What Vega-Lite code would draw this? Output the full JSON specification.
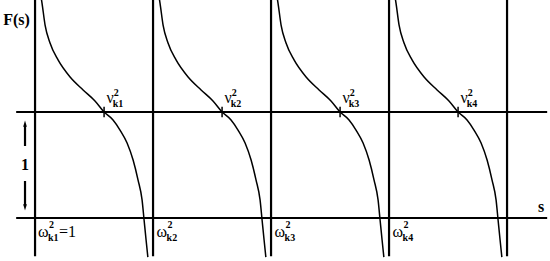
{
  "$schema": "https://vega.github.io/schema/vega-lite/v6.json",
  "width": 550,
  "height": 261,
  "autosize": {"type": "none"},
  "padding": 0,
  "background": "white",
  "config": {"view": {"stroke": null}},
  "datasets": {
    "vlines": [
      {"s": 1, "F": -0.36, "F2": 2.1},
      {"s": 2, "F": -0.36, "F2": 2.1},
      {"s": 3, "F": -0.36, "F2": 2.1},
      {"s": 4, "F": -0.36, "F2": 2.1},
      {"s": 5, "F": -0.36, "F2": 2.1}
    ],
    "hlines": [
      {"s": 0.84, "s2": 5.34, "F": 0},
      {"s": 0.84, "s2": 5.34, "F": 1}
    ],
    "ticks": [
      {"s": 1.585, "F": 0.95, "F2": 1.05},
      {"s": 2.585, "F": 0.95, "F2": 1.05},
      {"s": 3.585, "F": 0.95, "F2": 1.05},
      {"s": 4.585, "F": 0.95, "F2": 1.05}
    ],
    "curves": [
      {"seg": 1, "s": 1.051, "F": 2.085}, {"seg": 1, "s": 1.059, "F": 2.028}, {"seg": 1, "s": 1.085, "F": 1.821}, {"seg": 1, "s": 1.127, "F": 1.651}, {"seg": 1, "s": 1.195, "F": 1.491}, {"seg": 1, "s": 1.297, "F": 1.33}, {"seg": 1, "s": 1.407, "F": 1.208}, {"seg": 1, "s": 1.508, "F": 1.104}, {"seg": 1, "s": 1.585, "F": 1.0}, {"seg": 1, "s": 1.661, "F": 0.925}, {"seg": 1, "s": 1.72, "F": 0.83}, {"seg": 1, "s": 1.78, "F": 0.708}, {"seg": 1, "s": 1.831, "F": 0.547}, {"seg": 1, "s": 1.873, "F": 0.358}, {"seg": 1, "s": 1.907, "F": 0.17}, {"seg": 1, "s": 1.924, "F": -0.019}, {"seg": 1, "s": 1.941, "F": -0.208}, {"seg": 1, "s": 1.956, "F": -0.37},
      {"seg": 2, "s": 2.051, "F": 2.085}, {"seg": 2, "s": 2.059, "F": 2.028}, {"seg": 2, "s": 2.085, "F": 1.821}, {"seg": 2, "s": 2.127, "F": 1.651}, {"seg": 2, "s": 2.195, "F": 1.491}, {"seg": 2, "s": 2.297, "F": 1.33}, {"seg": 2, "s": 2.407, "F": 1.208}, {"seg": 2, "s": 2.508, "F": 1.104}, {"seg": 2, "s": 2.585, "F": 1.0}, {"seg": 2, "s": 2.661, "F": 0.925}, {"seg": 2, "s": 2.72, "F": 0.83}, {"seg": 2, "s": 2.78, "F": 0.708}, {"seg": 2, "s": 2.831, "F": 0.547}, {"seg": 2, "s": 2.873, "F": 0.358}, {"seg": 2, "s": 2.907, "F": 0.17}, {"seg": 2, "s": 2.924, "F": -0.019}, {"seg": 2, "s": 2.941, "F": -0.208}, {"seg": 2, "s": 2.956, "F": -0.37},
      {"seg": 3, "s": 3.051, "F": 2.085}, {"seg": 3, "s": 3.059, "F": 2.028}, {"seg": 3, "s": 3.085, "F": 1.821}, {"seg": 3, "s": 3.127, "F": 1.651}, {"seg": 3, "s": 3.195, "F": 1.491}, {"seg": 3, "s": 3.297, "F": 1.33}, {"seg": 3, "s": 3.407, "F": 1.208}, {"seg": 3, "s": 3.508, "F": 1.104}, {"seg": 3, "s": 3.585, "F": 1.0}, {"seg": 3, "s": 3.661, "F": 0.925}, {"seg": 3, "s": 3.72, "F": 0.83}, {"seg": 3, "s": 3.78, "F": 0.708}, {"seg": 3, "s": 3.831, "F": 0.547}, {"seg": 3, "s": 3.873, "F": 0.358}, {"seg": 3, "s": 3.907, "F": 0.17}, {"seg": 3, "s": 3.924, "F": -0.019}, {"seg": 3, "s": 3.941, "F": -0.208}, {"seg": 3, "s": 3.956, "F": -0.37},
      {"seg": 4, "s": 4.051, "F": 2.085}, {"seg": 4, "s": 4.059, "F": 2.028}, {"seg": 4, "s": 4.085, "F": 1.821}, {"seg": 4, "s": 4.127, "F": 1.651}, {"seg": 4, "s": 4.195, "F": 1.491}, {"seg": 4, "s": 4.297, "F": 1.33}, {"seg": 4, "s": 4.407, "F": 1.208}, {"seg": 4, "s": 4.508, "F": 1.104}, {"seg": 4, "s": 4.585, "F": 1.0}, {"seg": 4, "s": 4.661, "F": 0.925}, {"seg": 4, "s": 4.72, "F": 0.83}, {"seg": 4, "s": 4.78, "F": 0.708}, {"seg": 4, "s": 4.831, "F": 0.547}, {"seg": 4, "s": 4.873, "F": 0.358}, {"seg": 4, "s": 4.907, "F": 0.17}, {"seg": 4, "s": 4.924, "F": -0.019}, {"seg": 4, "s": 4.941, "F": -0.208}, {"seg": 4, "s": 4.956, "F": -0.37}
    ],
    "shafts": [
      {"s": 0.915, "F": 0.679, "F2": 0.87},
      {"s": 0.915, "F": 0.349, "F2": 0.11}
    ],
    "uphead": [{"s": 0.915, "F": 0.89}],
    "downhead": [{"s": 0.915, "F": 0.1}],
    "main": [
      {"s": 1.605, "F": 1.085, "label": "ν"},
      {"s": 2.605, "F": 1.085, "label": "ν"},
      {"s": 3.605, "F": 1.085, "label": "ν"},
      {"s": 4.605, "F": 1.085, "label": "ν"},
      {"s": 1.025, "F": -0.179, "label": "ω"},
      {"s": 2.03, "F": -0.179, "label": "ω"},
      {"s": 3.03, "F": -0.179, "label": "ω"},
      {"s": 4.03, "F": -0.179, "label": "ω"},
      {"s": 1.203, "F": -0.179, "label": "=1"}
    ],
    "small": [
      {"s": 1.666, "F": 1.151, "label": "2"},
      {"s": 2.666, "F": 1.151, "label": "2"},
      {"s": 3.666, "F": 1.151, "label": "2"},
      {"s": 4.666, "F": 1.151, "label": "2"},
      {"s": 1.658, "F": 1.047, "label": "k1"},
      {"s": 2.658, "F": 1.047, "label": "k2"},
      {"s": 3.658, "F": 1.047, "label": "k3"},
      {"s": 4.658, "F": 1.047, "label": "k4"},
      {"s": 1.118, "F": -0.094, "label": "2"},
      {"s": 2.123, "F": -0.094, "label": "2"},
      {"s": 3.123, "F": -0.094, "label": "2"},
      {"s": 4.123, "F": -0.094, "label": "2"},
      {"s": 1.11, "F": -0.217, "label": "k1"},
      {"s": 2.115, "F": -0.217, "label": "k2"},
      {"s": 3.115, "F": -0.217, "label": "k3"},
      {"s": 4.115, "F": -0.217, "label": "k4"}
    ],
    "boldlabels": [
      {"s": 0.73, "F": 1.821, "label": "F(s)"},
      {"s": 5.263, "F": 0.057, "label": "s"}
    ],
    "one": [{"s": 0.915, "F": 0.453, "label": "1"}]
  },
  "encoding": {
    "x": {"field": "s", "type": "quantitative", "scale": {"domain": [0.703, 5.364], "nice": false, "zero": false}, "axis": null},
    "y": {"field": "F", "type": "quantitative", "scale": {"domain": [-0.406, 2.057], "nice": false, "zero": false}, "axis": null}
  },
  "layer": [
    {"data": {"name": "vlines"}, "mark": {"type": "rule", "color": "black", "strokeWidth": 2.2, "clip": true}, "encoding": {"y2": {"field": "F2"}}},
    {"data": {"name": "hlines"}, "mark": {"type": "rule", "color": "black", "strokeWidth": 2.2}, "encoding": {"x2": {"field": "s2"}}},
    {"data": {"name": "curves"}, "mark": {"type": "line", "color": "black", "strokeWidth": 1.5, "interpolate": "monotone", "clip": true}, "encoding": {"detail": {"field": "seg"}, "order": {"field": "F", "sort": "descending"}}},
    {"data": {"name": "ticks"}, "mark": {"type": "rule", "color": "black", "strokeWidth": 1.5}, "encoding": {"y2": {"field": "F2"}}},
    {"data": {"name": "shafts"}, "mark": {"type": "rule", "color": "black", "strokeWidth": 2.2}, "encoding": {"y2": {"field": "F2"}}},
    {"data": {"name": "uphead"}, "mark": {"type": "point", "filled": true, "color": "black", "opacity": 1, "size": 150, "shape": "M-0.3,0.5L0,-0.5L0.3,0.5Z"}, "encoding": {}},
    {"data": {"name": "downhead"}, "mark": {"type": "point", "filled": true, "color": "black", "opacity": 1, "size": 150, "shape": "M-0.3,-0.5L0,0.5L0.3,-0.5Z"}, "encoding": {}},
    {"data": {"name": "main"}, "mark": {"type": "text", "font": "Liberation Serif", "fontSize": 16, "align": "left", "baseline": "alphabetic", "color": "black"}, "encoding": {"text": {"field": "label"}}},
    {"data": {"name": "small"}, "mark": {"type": "text", "font": "Liberation Serif", "fontSize": 10, "fontWeight": "bold", "align": "left", "baseline": "alphabetic", "color": "black"}, "encoding": {"text": {"field": "label"}}},
    {"data": {"name": "boldlabels"}, "mark": {"type": "text", "font": "Liberation Serif", "fontSize": 16, "fontWeight": "bold", "align": "left", "baseline": "alphabetic", "color": "black"}, "encoding": {"text": {"field": "label"}}},
    {"data": {"name": "one"}, "mark": {"type": "text", "font": "Liberation Serif", "fontSize": 16, "fontWeight": "bold", "align": "center", "baseline": "alphabetic", "color": "black"}, "encoding": {"text": {"field": "label"}}}
  ]
}
